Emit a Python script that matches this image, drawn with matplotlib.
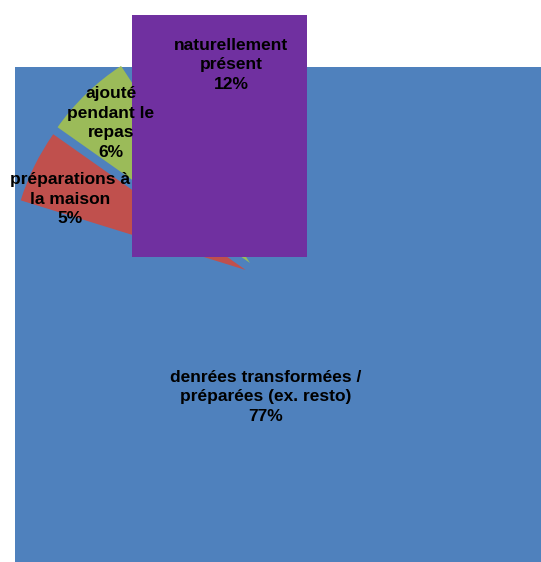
import matplotlib
matplotlib.use('agg')
import matplotlib.pyplot as plt
from matplotlib.patches import Rectangle

##### Data
categories = ['denrées transformées /\npréparées (ex. resto)', 'préparations à\nla maison',
              'ajouté\npendant le\nrepas', 'naturellement\nprésent']
shares = [77, 5, 6, 12]
colors = ['#4F81BD', '#C0504D', '#9BBB59', '#7030A0']

##### Layout (pixel units, y up)
W, H = 541, 562
pie_center = (245.7, 292)
pie_radius = 235.5
# per-slice geometry after rendering: (center, radius), None = keep pie value
slice_geom = [((290, 224), 275), None, ((250, 299), 235.5), ((265, 305), 242)]
boxed = [True, False, False, True]   # slices rendered as their bounding box
label_pos = [(266, 165), (70, 363), (111, 439), (231, 497)]

plt.rcParams['font.family'] = ['Liberation Sans', 'DejaVu Sans']

fig = plt.figure(figsize=(W/100, H/100), dpi=100)
ax = fig.add_axes([0, 0, 1, 1])
wedges, _ = ax.pie(shares, colors=colors, startangle=80, counterclock=False,
                   center=pie_center, radius=pie_radius)
ax.set_xlim(0, W)
ax.set_ylim(0, H)
ax.set_aspect('auto')
ax.axis('off')

# draw order: blue box, red, green, purple box
for i, w in enumerate(wedges):
    if slice_geom[i] is not None:
        w.set_center(slice_geom[i][0])
        w.set_radius(slice_geom[i][1])
    w.set_zorder(i + 1)
    if boxed[i]:
        bb = w.get_path().get_extents()
        ax.add_patch(Rectangle((bb.x0, bb.y0), bb.width, bb.height,
                               facecolor=colors[i], edgecolor='none', zorder=i + 1))
        w.set_visible(False)

for i, lab in enumerate(categories):
    ax.text(label_pos[i][0], label_pos[i][1], lab + '\n' + str(shares[i]) + '%',
            ha='center', va='center', fontsize=12.5, fontweight='bold',
            linespacing=1.4, color='black', zorder=10)

plt.savefig('out.png', dpi=100)
